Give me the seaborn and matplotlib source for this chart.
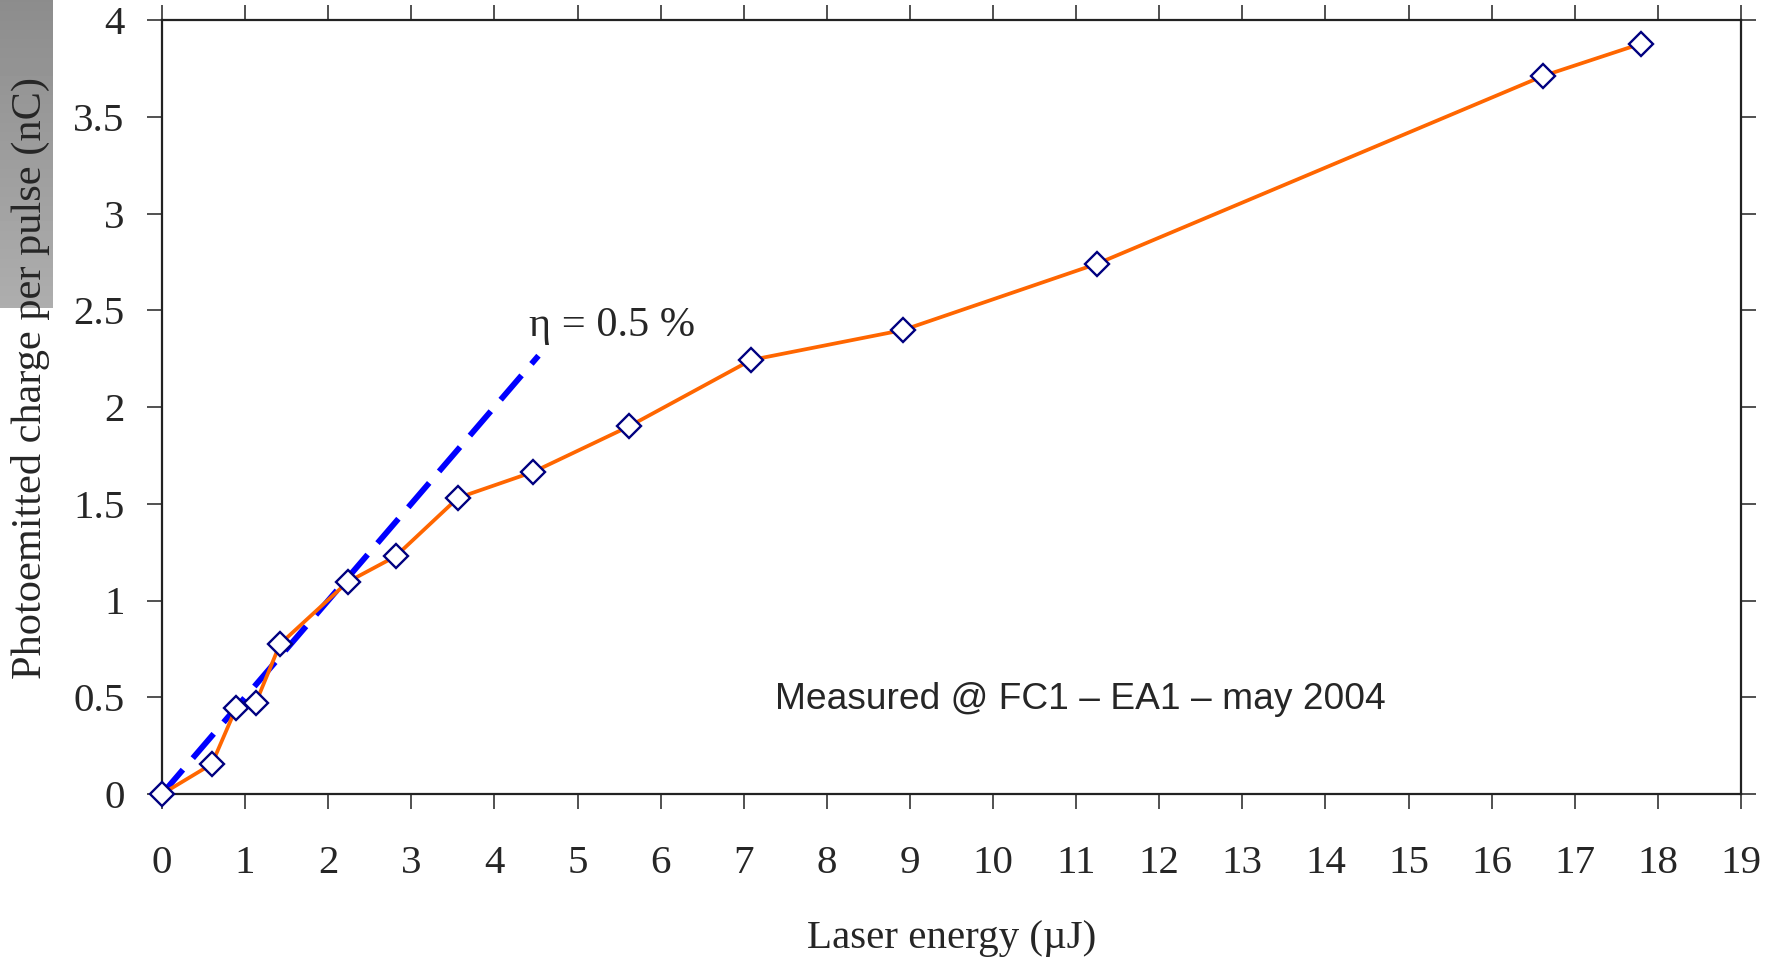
import numpy as np
import matplotlib
matplotlib.use("Agg")
import matplotlib.pyplot as plt
import seaborn as sns
import pandas as pd

# Data
energy_uJ = [0.0, 0.60, 0.89, 1.13, 1.42, 2.235, 2.81, 3.56, 4.47, 5.62, 7.09, 8.92, 11.25, 16.62, 17.80]
charge_nC = [0.0, 0.155, 0.443, 0.472, 0.775, 1.096, 1.228, 1.530, 1.665, 1.900, 2.243, 2.398, 2.740, 3.711, 3.878]
fit_x = [0.0, 4.53]
fit_y = [0.0, 2.265]
xticks = list(range(0, 20))
yticks = [0, 0.5, 1, 1.5, 2, 2.5, 3, 3.5, 4]
ytick_labels = ["0", "0.5", "1", "1.5", "2", "2.5", "3", "3.5", "4"]

sns.set_style("ticks")
plt.rcParams['font.family'] = ['Liberation Serif', 'DejaVu Serif']

W, H = 1776, 961
fig = plt.figure(figsize=(W / 100, H / 100), dpi=100)

# grey gradient block at top-left
gax = fig.add_axes([0, 1 - 308 / H, 52 / W, 308 / H], zorder=0)
grad = np.linspace(0.55, 0.68, 100).reshape(-1, 1)
gax.imshow(grad, cmap='gray', vmin=0, vmax=1, aspect='auto', extent=[0, 1, 0, 1], origin='upper')
gax.axis('off')

ax = fig.add_axes([162 / W, 1 - 794 / H, (1741 - 162) / W, (794 - 20) / H], zorder=2)
ax.set_facecolor('none')

df = pd.DataFrame({"E": energy_uJ, "Q": charge_nC})
fit = pd.DataFrame({"E": fit_x, "Q": fit_y})

sns.lineplot(data=fit, x="E", y="Q", ax=ax, color="#0000FF", lw=4.2,
             dashes=False, sort=False, zorder=2)
ax.lines[-1].set_dashes([5.5, 2.6])
sns.lineplot(data=df, x="E", y="Q", ax=ax, color="#FF6600", lw=2.7, sort=False,
             marker="D", markersize=12.5, markerfacecolor="white",
             markeredgecolor="#000080", markeredgewidth=1.7, zorder=3)
for l in ax.lines:
    l.set_clip_on(False)

ax.set_xlim(0, 19)
ax.set_ylim(0, 4)
ax.set_xticks(xticks)
ax.set_xticklabels([str(t) for t in xticks])
ax.set_yticks(yticks)
ax.set_yticklabels(ytick_labels)

for s in ax.spines.values():
    s.set_visible(True)
    s.set_color("#222222")
    s.set_linewidth(1.6)

ax.tick_params(axis='both', which='both', direction='out', length=11, width=1.2,
               color="#333333", labelsize=29.5, top=True, right=True)
ax.tick_params(axis='x', pad=26)
ax.tick_params(axis='y', pad=16)

ax.set_xlabel("Laser energy (µJ)", fontsize=29.5)
ax.set_ylabel("Photoemitted charge per pulse (nC)", fontsize=30.5)
ax.xaxis.set_label_coords(0.5, -0.163)
ax.yaxis.set_label_coords(-0.071, 0.537)

ax.text(4.42, 2.42, "η = 0.5 %", fontsize=30.5, ha='left', va='center')
ax.text(7.38, 0.49, "Measured @ FC1 – EA1 – may 2004", fontsize=26.7, ha='left', va='center',
        family=['Liberation Sans', 'DejaVu Sans'])

fig.savefig("out.png", dpi=100)
